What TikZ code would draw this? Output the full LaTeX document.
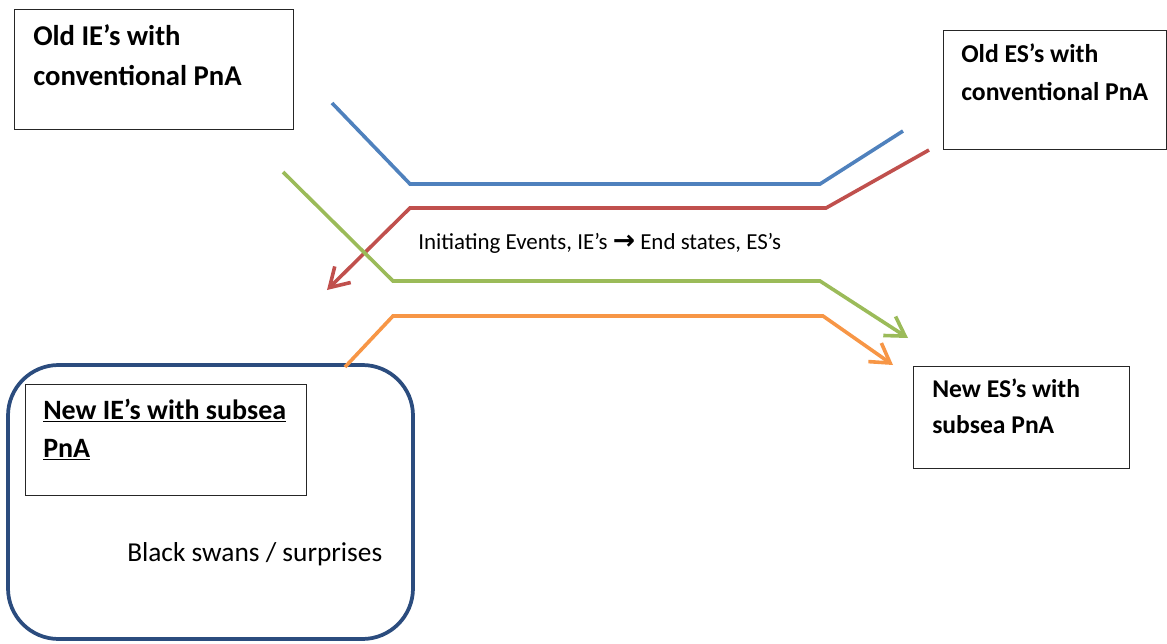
\documentclass[tikz,border=0pt]{standalone}
\usepackage{fontspec}
\setmainfont{Carlito}
\newfontfamily\arrowfont{DejaVu Sans}
\usetikzlibrary{arrows.meta}
\definecolor{pathblue}{HTML}{4F81BD}
\definecolor{pathred}{HTML}{C0504D}
\definecolor{pathgreen}{HTML}{9BBB59}
\definecolor{pathorange}{HTML}{F79646}
\definecolor{framenavy}{HTML}{2B4C7E}
\tikzset{
  statebox/.style={draw=black!85, line width=1.1pt, fill=white, inner sep=0pt, anchor=north west},
  boldlbl/.style={inner sep=0pt, anchor=base west, align=left, font=\fontsize{21.5}{29}\selectfont\bfseries},
  plainlbl/.style={inner sep=0pt, anchor=base west, font=\fontsize{17.2}{20}\selectfont},
  flow/.style={line width=2.7pt, line join=miter},
  flowhead/.style={flow, -{Straight Barb[length=14pt, width=17pt, line width=2.7pt]}},
  cluster/.style={draw=framenavy, line width=2.8pt, rounded corners=38pt}
}
\begin{document}
\begin{tikzpicture}[x=0.75pt, y=-0.75pt]
\useasboundingbox (0,0) rectangle (1167,643);

% rounded region around the new initiating events
\draw[cluster] (8,365) rectangle (413,639);

% state boxes
\node[statebox, minimum width=279*0.75pt, minimum height=120*0.75pt] (oldie) at (14,9) {};
\node[statebox, minimum width=223*0.75pt, minimum height=119*0.75pt] (oldes) at (943,30) {};
\node[statebox, minimum width=281*0.75pt, minimum height=111*0.75pt] (newie) at (25,384) {};
\node[statebox, minimum width=216*0.75pt, minimum height=102*0.75pt] (newes) at (913,366) {};

% labels are placed by the baseline of their last line
\node[boldlbl, font=\fontsize{21.5}{30}\selectfont\bfseries] (oldietxt) at (33,85) {Old IE’s with\\conventional PnA};
\node[boldlbl, font=\fontsize{19.3}{28.5}\selectfont\bfseries] (oldestxt) at (961,100) {Old ES’s with\\conventional PnA};
\node[boldlbl, font=\fontsize{21}{28}\selectfont\bfseries] (newietxt) at (43,457) {\underline{New IE’s with subsea}\\\underline{PnA}};
\node[boldlbl, font=\fontsize{19.2}{27}\selectfont\bfseries] (newestxt) at (932,433) {New ES’s with\\subsea PnA};

\node[plainlbl] (ietoes) at (418,249) {Initiating Events, IE’s {\arrowfont\bfseries\fontsize{20}{20}\selectfont →} End states, ES’s};
\node[plainlbl, font=\fontsize{20.5}{24}\selectfont] (swans) at (127,561) {Black swans / surprises};

% flow lines between the old and new states
\coordinate (b0) at (332,103);
\coordinate (b3) at (903,131);
\draw[flow, pathblue] (b0) -- (410,184) -- (820,184) -- (b3);

\coordinate (r0) at (929,150);
\coordinate (r3) at (327,290);
\draw[flowhead, pathred] (r0) -- (826,208) -- (410,208) -- (r3);

\coordinate (g0) at (283,172);
\coordinate (g3) at (908,338);
\draw[flowhead, pathgreen] (g0) -- (393,281) -- (820,281) -- (g3);

\coordinate (o0) at (345,367);
\coordinate (o3) at (893,365);
\draw[flowhead, pathorange] (o0) -- (393,316) -- (823,316) -- (o3);
\end{tikzpicture}
\end{document}
